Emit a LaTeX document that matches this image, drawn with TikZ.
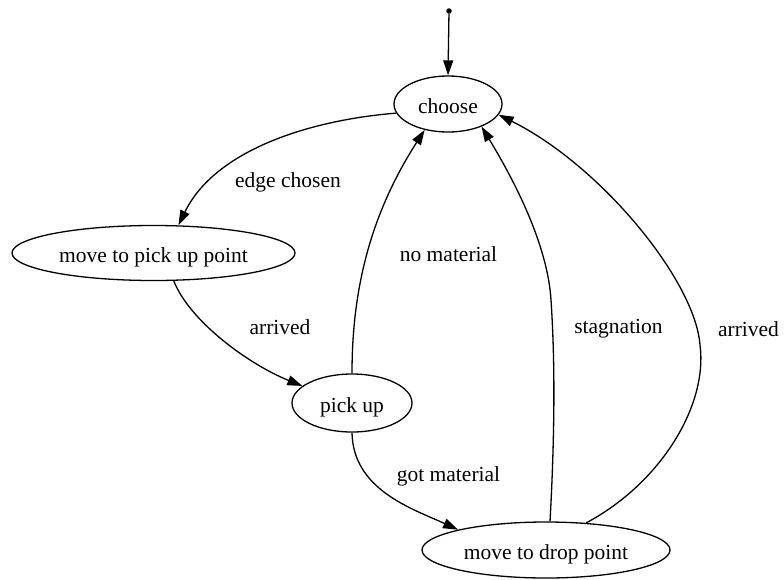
\documentclass[tikz,border=0pt]{standalone}
\usepackage{fontspec}
\setmainfont{Liberation Serif}
\usetikzlibrary{shapes.geometric,arrows.meta}
\begin{document}
\begin{tikzpicture}[x=1pt,y=-1pt,
  state/.style={ellipse,draw,line width=1.3pt,inner sep=0pt,
    text height=18pt,text depth=0pt,
    font=\fontsize{21.5}{24}\selectfont},
  trans/.style={line width=1.3pt,-{Triangle[length=15pt,width=10pt]}},
  lbl/.style={inner sep=0pt,font=\fontsize{21.5}{24}\selectfont}]
\useasboundingbox (0,0) rectangle (784,579);

% states
\node[circle,fill,inner sep=0pt,minimum size=5.5pt] (init) at (449,11) {};
\node[state,minimum width=108pt,minimum height=56pt] (choose) at (448,104) {choose};
\node[state,minimum width=283pt,minimum height=55pt] (movepick) at (153.5,253) {move to pick up point};
\node[state,minimum width=120pt,minimum height=58pt] (pick) at (352,403) {pick up};
\node[state,minimum width=248pt,minimum height=56pt] (movedrop) at (546,550) {move to drop point};

% transitions
\draw[trans] (init) -- (choose.north);
\draw[trans] (choose.190) .. controls (310,120) and (215,150) .. (movepick.48);
\draw[trans] (movepick.-54) .. controls (190,322) and (250,365) .. (pick.161);
\draw[trans] (pick.north) .. controls (352,290) and (370,215) .. (choose.-132);
\draw[trans] (pick.south) .. controls (353,490) and (413,509) .. (movedrop.167);
\draw[trans] (movedrop.82) .. controls (555,430) and (555,360) .. (551,300)
  .. controls (548,250) and (520,190) .. (choose.-34);
\draw[trans] (movedrop.34) .. controls (661,483) and (708,405) .. (700,345)
  .. controls (695,280) and (600,165) .. (choose.-12);

% transition labels
\node[lbl] (l1) at (288,182) {edge chosen};
\node[lbl] (l2) at (280,327) {arrived};
\node[lbl] (l3) at (448.5,254) {no material};
\node[lbl] (l4) at (448.5,476) {got material};
\node[lbl] (l5) at (618.5,329) {stagnation};
\node[lbl] (l6) at (748.5,329) {arrived};
\end{tikzpicture}
\end{document}
